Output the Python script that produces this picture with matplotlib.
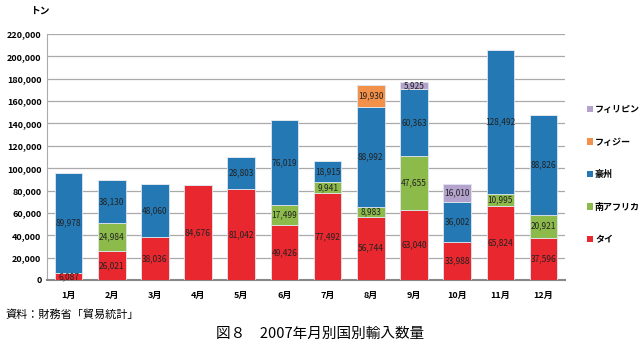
import matplotlib.pyplot as plt
import numpy as np
from matplotlib.patches import Patch

plt.rcParams['font.family'] = ['Noto Sans CJK JP', 'DejaVu Sans']

months = ['1月', '2月', '3月', '4月', '5月', '6月', '7月', '8月', '9月', '10月', '11月', '12月']
thai = [6087, 26021, 38036, 84676, 81042, 49426, 77492, 56744, 63040, 33988, 65824, 37596]
safrica = [0, 24984, 0, 0, 0, 17499, 9941, 8983, 47655, 0, 10995, 20921]
australia = [89978, 38130, 48060, 0, 28803, 76019, 18915, 88992, 60363, 36002, 128492, 88826]
fiji = [0, 0, 0, 0, 0, 0, 0, 19930, 0, 0, 0, 0]
philippines = [0, 0, 0, 0, 0, 0, 0, 0, 5925, 16010, 0, 0]

series = [('タイ', thai, '#E8272F'),
          ('南アフリカ', safrica, '#8CBB4B'),
          ('豪州', australia, '#2479B4'),
          ('フィジー', fiji, '#F3914A'),
          ('フィリピン', philippines, '#B3A2CC')]

fig = plt.figure(figsize=(6.4, 3.51), dpi=100)
ax = fig.add_axes([0.0734, 0.2023, 0.8096, 0.7008])

x = np.arange(len(months))
bottom = np.zeros(len(months))
handles = []
for name, vals, col in series:
    vals = np.array(vals, dtype=float)
    ax.bar(x, vals, 0.64, bottom=bottom, color=col, edgecolor='#dfe6ee', linewidth=0.6, zorder=3)
    for xi, v, b in zip(x, vals, bottom):
        if v > 0:
            ax.text(xi, b + v / 2, f'{int(v):,}', ha='center', va='center', fontsize=6,
                    color='#222222', zorder=4)
    bottom += vals
    handles.append(Patch(facecolor=col, label=name))

ax.set_xlim(-0.5, 11.5)
ax.set_ylim(0, 220000)
ax.set_yticks(np.arange(0, 220001, 20000))
ax.set_yticklabels([f'{v:,}' for v in range(0, 220001, 20000)])
ax.set_xticks(x)
ax.set_xticklabels(months)
ax.tick_params(axis='both', length=0, labelsize=6.5)
for lbl in ax.get_xticklabels() + ax.get_yticklabels():
    lbl.set_fontweight('bold')
ax.tick_params(axis='x', pad=8)
ax.tick_params(axis='y', pad=4)
ax.yaxis.grid(True, color='#aaaaaa', linewidth=0.9, zorder=0)
ax.set_axisbelow(True)
for s in ['top', 'right']:
    ax.spines[s].set_visible(False)
ax.spines['left'].set_color('#aaaaaa')
ax.spines['bottom'].set_color('#888888')
ax.spines['bottom'].set_linewidth(1.5)

leg = ax.legend(handles=handles[::-1], loc='upper left', bbox_to_anchor=(1.035, 0.725),
                frameon=False, fontsize=6.5, handlelength=0.7, handleheight=0.7,
                handletextpad=0.2, labelspacing=2.6, borderaxespad=0)
for t in leg.get_texts():
    t.set_fontweight('bold')

fig.text(0.047, 0.97, 'トン', fontsize=7, fontweight='bold', va='center')
fig.text(0.008, 0.105, '資料：財務省「貿易統計」', fontsize=8, va='center')
fig.text(0.5, 0.05, '図８　2007年月別国別輸入数量', fontsize=10.5, ha='center', va='center')

fig.savefig('out.png', dpi=100)
